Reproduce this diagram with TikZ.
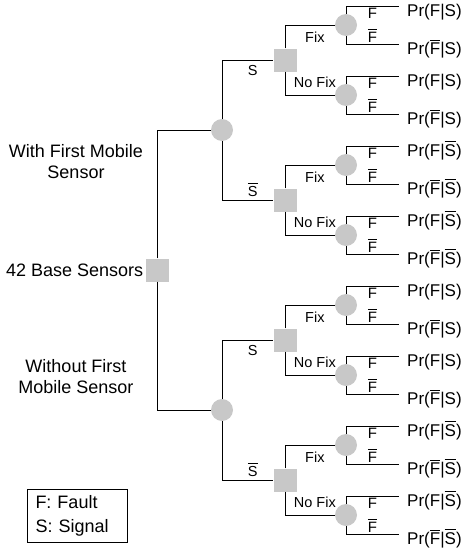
\documentclass[tikz,border=0pt]{standalone}
\usepackage{fontspec}
\setmainfont{Liberation Sans}
\usetikzlibrary{calc,positioning}
\definecolor{nodegray}{RGB}{200,200,200}
\newcommand{\negate}[1]{\leavevmode\vbox{\hrule height 0.9pt\kern1.8pt\hbox{#1}}}
\tikzset{
	decision/.style={fill=nodegray, minimum size=23pt, inner sep=0pt},
	chance/.style={circle, fill=nodegray, minimum size=22pt, inner sep=0pt},
	branch/.style={line width=1pt},
	biglbl/.style={font=\fontsize{18}{21}\selectfont, align=center},
	edgelbl/.style={font=\fontsize{14.5}{17}\selectfont},
	outlbl/.style={font=\fontsize{15}{17}\selectfont, inner sep=1.5pt},
	prlbl/.style={font=\fontsize{17}{20}\selectfont, anchor=base west, inner sep=0pt}
}
\begin{document}
\begin{tikzpicture}[x=1pt,y=-1pt]
				\useasboundingbox (0,0) rectangle (463,552);
				\node[decision] (base) at (157,270) {};
				\node[chance] (mob1) at (222,130) {};
				\node[chance] (mob2) at (222,410) {};
				\node[biglbl, inner sep=0pt, left=2pt of base] (baselbl) {42 Base Sensors};
				\node[biglbl] (withlbl) at (76,162) {With First Mobile\\Sensor};
				\node[biglbl] (withoutlbl) at (76,377) {Without First\\Mobile Sensor};
				\foreach \j/\y/\s in {1/60/S, 2/200/{\negate{S}}, 3/340/S, 4/480/{\negate{S}}} {
					\node[decision] (sig\j) at (285,\y) {};
					\node[chance] (fixa\j) at (346,{\y-35}) {};
					\node[chance] (fixb\j) at (346,{\y+35}) {};
					\draw[branch] (sig\j) |- node[edgelbl, pos=0.8, below=3pt] {Fix} (fixa\j);
					\draw[branch] (sig\j) |- node[edgelbl, pos=0.8, above=4pt] {No Fix} (fixb\j);
					\foreach \f in {fixa\j, fixb\j} {
						\coordinate (\f-up) at ($(\f)+(53,-19)$);
						\coordinate (\f-dn) at ($(\f)+(53,19)$);
						\draw[branch] (\f) |- node[outlbl, pos=0.75, below=0pt] {F} (\f-up);
						\draw[branch] (\f) |- node[outlbl, pos=0.75, above=0pt] {\negate{F}} (\f-dn);
						\node[prlbl] (pr-\f-up) at ($(\f-up)+(8,10)$) {Pr(F|\s)};
						\node[prlbl] (pr-\f-dn) at ($(\f-dn)+(8,10)$) {Pr(\negate{F}|\s)};
					}
				}
				\draw[branch] (base) |- (mob1);
				\draw[branch] (base) |- (mob2);
				\draw[branch] (mob1) |- node[edgelbl, pos=0.8, below=2pt] {S} (sig1);
				\draw[branch] (mob1) |- node[edgelbl, pos=0.8, above] {\negate{S}} (sig2);
				\draw[branch] (mob2) |- node[edgelbl, pos=0.8, below=2pt] {S} (sig3);
				\draw[branch] (mob2) |- node[edgelbl, pos=0.8, above] {\negate{S}} (sig4);
				\node[draw, line width=1pt, anchor=north west, text width=84pt, inner xsep=8pt, inner ysep=6pt, font=\fontsize{18}{24}\selectfont, align=left] (legend) at (27,489) {F: Fault\\S: Signal};
\end{tikzpicture}
\end{document}
